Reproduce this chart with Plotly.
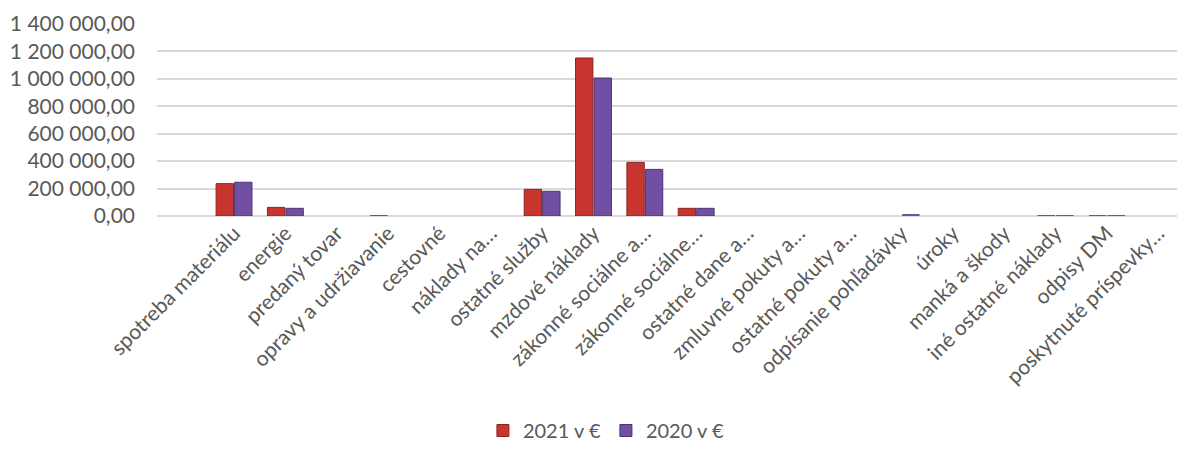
import plotly.graph_objects as go

categories = [
    "spotreba materiálu", "energie", "predaný tovar", "opravy a udržiavanie",
    "cestovné", "náklady na…", "ostatné služby", "mzdové náklady",
    "zákonné sociálne a…", "zákonné sociálne…", "ostatné dane a…",
    "zmluvné pokuty a…", "ostatné pokuty a…", "odpísanie pohľadávky",
    "úroky", "manká a škody", "iné ostatné náklady", "odpisy DM",
    "poskytnuté príspevky…",
]
values_2021 = [236000, 63000, 0, 3000, 0, 0, 194000, 1152000, 391000, 56000,
               0, 0, 0, 0, 0, 0, 2500, 2500, 0]
values_2020 = [246000, 56000, 0, 0, 0, 0, 180000, 1006000, 340000, 56000,
               0, 0, 0, 8000, 0, 0, 2500, 2500, 0]
y_ticks = [0, 200000, 400000, 600000, 800000, 1000000, 1200000, 1400000]

FONT = "Lato, 'Open Sans', sans-serif"
TXT = "#595959"


def edge_widths(vals):
    return [1 if v > 20000 else 0 for v in vals]


fig = go.Figure()
fig.add_bar(name="2021 v €", x=categories, y=values_2021,
            marker=dict(color="#C8352E",
                        line=dict(color="#8E2420", width=edge_widths(values_2021))))
fig.add_bar(name="2020 v €", x=categories, y=values_2020,
            marker=dict(color="#7150A3",
                        line=dict(color="#4B3270", width=edge_widths(values_2020))))

fig.update_layout(
    width=1177, height=442,
    margin=dict(l=149, r=1, t=16, b=234, autoexpand=False),
    paper_bgcolor="white", plot_bgcolor="white",
    barmode="group", bargap=0.28, bargroupgap=0.06,
    separators=", ",
    font=dict(family=FONT, size=20, color=TXT),
    showlegend=True,
    legend=dict(orientation="h", xref="container", yref="container",
                x=0.508, xanchor="center", y=0.0, yanchor="bottom",
                font=dict(family=FONT, size=20, color=TXT),
                itemwidth=30, traceorder="normal"),
)
fig.update_xaxes(
    type="category", categoryorder="array", categoryarray=categories,
    range=[-1.5, 18.5], tickangle=-45, showgrid=False, showline=False,
    ticks="", automargin=False, tickfont=dict(family=FONT, size=21, color=TXT),
)
fig.update_yaxes(
    range=[0, 1400000], tickvals=y_ticks, tickformat=",.2f",
    showgrid=True, gridcolor="#D9D9D9", gridwidth=2,
    zeroline=True, zerolinecolor="#D9D9D9", zerolinewidth=2,
    showline=False, ticks="", ticklabelstandoff=21, automargin=False,
    tickfont=dict(family=FONT, size=21, color=TXT),
)

fig.write_html("out.html")
